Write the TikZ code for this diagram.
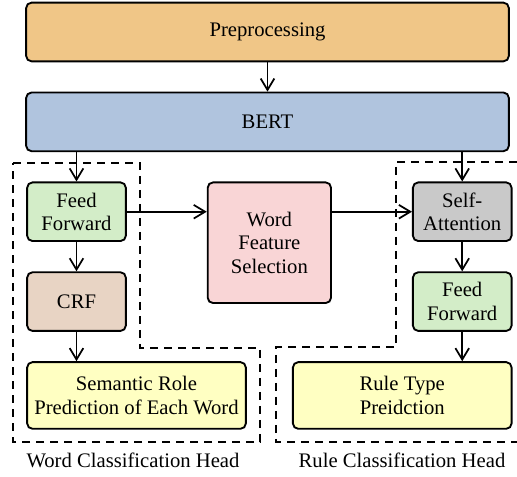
\documentclass[tikz,border=0pt]{standalone}
\usepackage{fontspec}
\setmainfont{Liberation Serif}
\usepackage{xcolor}
\usepackage{tikz}
\usetikzlibrary{arrows.meta,positioning,calc}
\definecolor{prepcol}{HTML}{F0C687}
\definecolor{bertcol}{HTML}{B0C4DE}
\definecolor{ffcol}{HTML}{D3EDC8}
\definecolor{crfcol}{HTML}{E8D4C4}
\definecolor{wfscol}{HTML}{F9D5D6}
\definecolor{attcol}{HTML}{C9C9C9}
\definecolor{outcol}{HTML}{FFFFC2}
\tikzset{
  block/.style={rounded corners=4pt, draw=black, line width=1.4pt, align=center, inner sep=0pt, font=\fontsize{15.5}{17.5}\selectfont},
  wide/.style={block, minimum width=362pt, minimum height=44pt},
  small/.style={block, minimum width=74pt, minimum height=44pt},
  outbox/.style={block, fill=outcol, minimum width=164pt, minimum height=50pt},
  head/.style={draw=black, line width=1.4pt, dash pattern=on 6pt off 4.5pt},
  arrow/.style={-{Straight Barb[length=3mm,width=3.6mm,line width=1.3pt]}, line width=1.4pt}
}

\begin{document}
\begin{tikzpicture}[x=0.75pt, y=0.75pt, node distance=22pt and 60pt]
  \useasboundingbox (0,0) rectangle (517,477);

  \node[wide, fill=prepcol] (prep) at (267.5,445) {Preprocessing};
  \node[wide, fill=bertcol, below=of prep] (bert) {BERT};

  % word head
  \node[small, fill=ffcol, below=of bert.south west, anchor=north west, xshift=0.75pt] (ffword) {Feed\\Forward};
  \node[small, fill=crfcol, below=of ffword] (crf) {CRF};
  \node[outbox, below=of crf.south west, anchor=north west] (srl) {Semantic Role\\Prediction of Each Word};

  % shared feature selection
  \node[block, fill=wfscol, minimum width=92.5pt, minimum height=90.5pt, right=of ffword.north east, anchor=north west] (wfs) {Word\\Feature\\Selection};

  % rule head
  \node[small, fill=attcol, right=of wfs.north east, anchor=north west] (att) {Self-\\Attention};
  \node[small, fill=ffcol, below=of att] (ffrule) {Feed\\Forward};
  \node[outbox, below=of ffrule.south east, anchor=north east] (rule) {Rule Type\\Preidction};

  \draw[head] (13,314) -- (140,314) -- (140,129) -- (260,129) -- (260,35) -- (13,35) -- cycle;
  \draw[head] (517,315) -- (396,315) -- (396,130) -- (276,130) -- (276,35) -- (517,35);
  \node[font=\fontsize{15.5}{17.5}\selectfont] (wordlab) at (133,17) {Word Classification Head};
  \node[font=\fontsize{15.5}{17.5}\selectfont] (rulelab) at (402,17) {Rule Classification Head};

  \draw[arrow] (prep) -- (bert);
  \draw[arrow] (bert.south -| ffword) -- (ffword);
  \draw[arrow] (ffword) -- (crf);
  \draw[arrow] (crf.south) -- (crf.south |- srl.north);
  \draw[arrow] (ffword.east) -- (ffword.east -| wfs.west);
  \draw[arrow] (wfs.east |- att) -- (att.west);
  \draw[arrow] (bert.south -| att) -- (att);
  \draw[arrow] (att) -- (ffrule);
  \draw[arrow] (ffrule.south) -- (ffrule.south |- rule.north);
\end{tikzpicture}
\end{document}
